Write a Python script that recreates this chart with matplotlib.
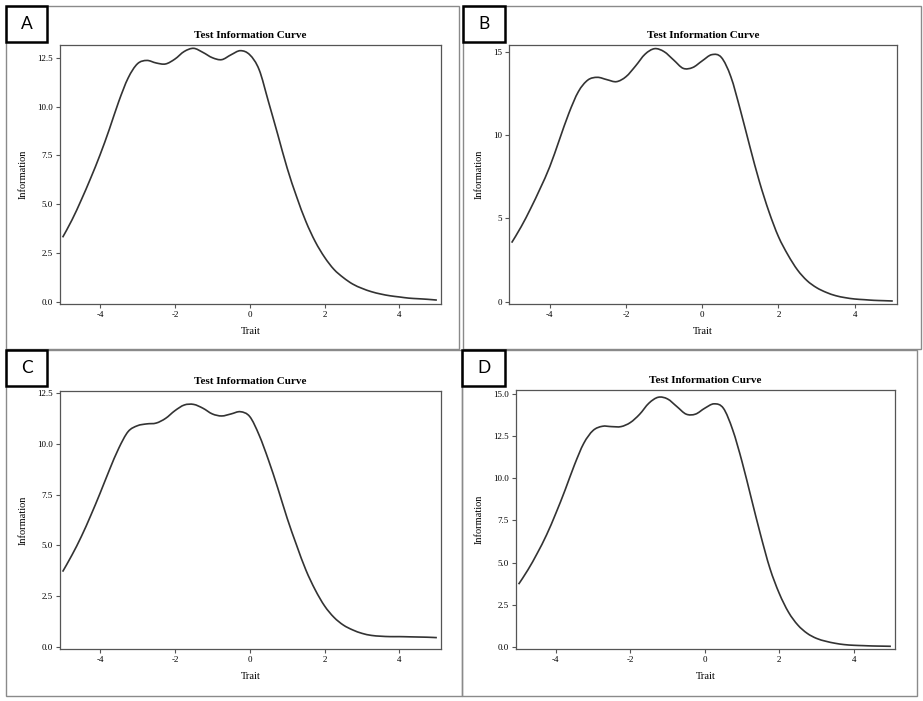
import matplotlib
matplotlib.use("Agg")
import matplotlib.pyplot as plt
from matplotlib.patches import Rectangle, PathPatch
from matplotlib.path import Path
import numpy as np

plt.rcParams["axes.unicode_minus"] = False

# trait grid shared by all four panels
trait = np.linspace(-5, 5, 41)

info_a = [3.31, 4.20, 5.23, 6.34, 7.53, 8.85, 10.26, 11.46, 12.19, 12.36, 12.23,
          12.18, 12.43, 12.82, 12.98, 12.77, 12.50, 12.40, 12.65, 12.86, 12.65,
          11.89, 10.25, 8.56, 6.85, 5.40, 4.12, 3.09, 2.29, 1.67, 1.25,
          0.92, 0.70, 0.53, 0.41, 0.32, 0.26, 0.20, 0.17, 0.14, 0.10]
info_b = [3.54, 4.50, 5.60, 6.80, 8.10, 9.70, 11.30, 12.60, 13.30, 13.46, 13.32,
          13.20, 13.50, 14.14, 14.85, 15.18, 15.00, 14.50, 14.00, 14.05, 14.45,
          14.82, 14.66, 13.50, 11.50, 9.30, 7.20, 5.40, 3.90, 2.80, 1.90,
          1.26, 0.84, 0.56, 0.36, 0.24, 0.16, 0.12, 0.08, 0.06, 0.04]
info_c = [3.71, 4.53, 5.44, 6.47, 7.57, 8.72, 9.79, 10.61, 10.90, 10.99, 11.03,
          11.26, 11.64, 11.92, 11.95, 11.76, 11.48, 11.38, 11.48, 11.59, 11.35,
          10.44, 9.21, 7.82, 6.34, 5.02, 3.79, 2.81, 2.02, 1.46, 1.08,
          0.84, 0.67, 0.57, 0.53, 0.51, 0.51, 0.50, 0.49, 0.48, 0.46]
info_d = [3.72, 4.57, 5.55, 6.64, 7.92, 9.31, 10.79, 12.07, 12.83, 13.08, 13.06,
          13.06, 13.30, 13.79, 14.45, 14.80, 14.70, 14.25, 13.80, 13.80, 14.15,
          14.41, 14.15, 12.87, 10.99, 8.81, 6.64, 4.66, 3.18, 2.06, 1.30,
          0.81, 0.51, 0.34, 0.22, 0.14, 0.10, 0.08, 0.06, 0.05, 0.04]

labels = ["A", "B", "C", "D"]
x_ticks = [-4, -2, 0, 2, 4]
y_ticks_a = [0, 2.5, 5, 7.5, 10, 12.5]
y_ticks_b = [0, 5, 10, 15]
y_ticks_d = [0, 2.5, 5, 7.5, 10, 12.5, 15]

W, H = 923, 701
fig = plt.figure(figsize=(W / 100, H / 100), dpi=100)


def frac(l, t, r, b):
    return [l / W, 1 - b / H, (r - l) / W, (b - t) / H]


def box(l, t, r, b, color, lw):
    fig.patches.append(Rectangle((l / W, 1 - b / H), (r - l) / W, (b - t) / H,
                                 transform=fig.transFigure, fill=False,
                                 edgecolor=color, linewidth=lw))


# smooth line through the points (catmull-rom drawn as bezier segments)
def smooth_path(x, y):
    p = np.column_stack([x, y])
    verts = [p[0]]
    codes = [Path.MOVETO]
    n = len(p)
    for i in range(n - 1):
        p0 = p[max(i - 1, 0)]
        p1, p2 = p[i], p[i + 1]
        p3 = p[min(i + 2, n - 1)]
        verts += [p1 + (p2 - p0) / 6, p2 - (p3 - p1) / 6, p2]
        codes += [Path.CURVE4] * 3
    return Path(verts, codes)


serif = "Liberation Serif"
grey = "#555555"

panels = [
    # outer box, label box, axes, data, yticks, fmt, ylim
    ((6, 6, 459, 349), (6, 6, 47, 42), (60, 45, 441, 304), info_a, y_ticks_a, "%.1f", (-0.10, 13.15)),
    ((463, 6, 921, 349), (463, 6, 505, 42), (509, 45, 897, 304), info_b, y_ticks_b, "%d", (-0.14, 15.4)),
    ((6, 350, 462, 696), (6, 350, 47, 386), (60, 391, 441, 649), info_c, y_ticks_a, "%.1f", (-0.10, 12.61)),
    ((462, 350, 917, 696), (462, 350, 505, 386), (516, 390, 895, 649), info_d, y_ticks_d, "%.1f", (-0.12, 15.23)),
]

for lab, (outer, lbox, ax_px, info, yt, fmt, ylim) in zip(labels, panels):
    box(*outer, "#8a8a8a", 1.0)
    box(*lbox, "black", 1.8)
    fig.text((lbox[0] + lbox[2]) / 2 / W, 1 - (lbox[1] + lbox[3]) / 2 / H, lab,
             ha="center", va="center", fontsize=12.5, family="Lato")

    ax = fig.add_axes(frac(*ax_px))
    ax.add_patch(PathPatch(smooth_path(trait, info), fill=False,
                           edgecolor="#333333", linewidth=1.2))
    ax.set_xlim(-5.07, 5.11)
    ax.set_ylim(*ylim)
    ax.set_xticks(x_ticks)
    ax.set_xticklabels([str(t) for t in x_ticks])
    ax.set_yticks(yt)
    ax.set_yticklabels([fmt % v for v in yt])
    for s in ax.spines.values():
        s.set_color(grey)
        s.set_linewidth(0.9)
    ax.tick_params(length=3, width=0.8, color=grey, labelsize=6.5, pad=2)
    for t in ax.get_xticklabels() + ax.get_yticklabels():
        t.set_family(serif)
    ax.set_title("Test Information Curve", fontsize=8, fontweight="bold",
                 family=serif, pad=5)
    ax.set_xlabel("Trait", fontsize=7.5, family=serif, labelpad=6)
    ax.set_ylabel("Information", fontsize=7.5, family=serif, labelpad=7)

fig.savefig("out.png", dpi=100)
